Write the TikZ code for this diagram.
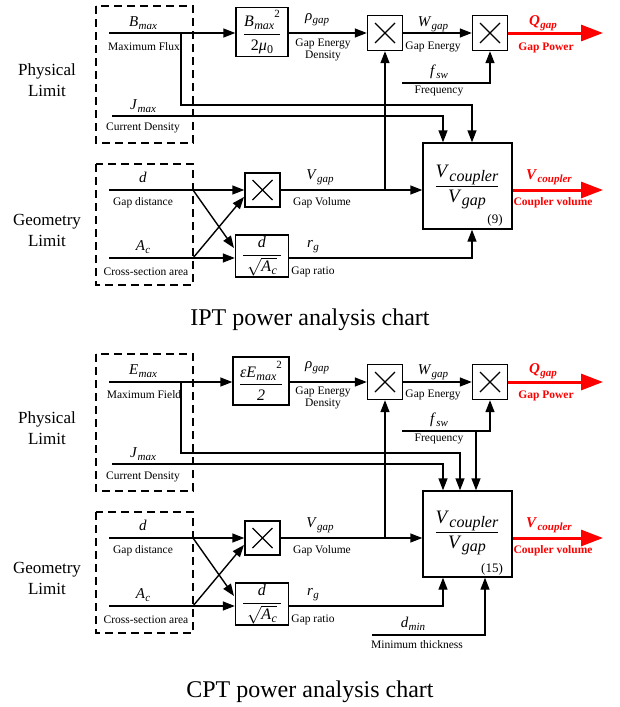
\documentclass[tikz,border=0pt]{standalone}
\usepackage{fontspec}
\setmainfont{Liberation Serif}
\usetikzlibrary{arrows.meta}
\newcommand{\vx}[3]{\textit{#2}\kern0.3pt\raisebox{-0.45ex}{\fontsize{#1}{#1}\selectfont\textit{#3}}}
\tikzset{
  ln/.style={line width=1.4pt},
  ar/.style={ln,-{Triangle[length=12pt,width=9pt]}},
  rar/.style={red, line width=3pt, -{Triangle[length=22pt,width=16pt]}},
  dbox/.style={line width=1.4pt, dash pattern=on 8pt off 5pt},
  blk/.style={draw, line width=1.4pt, inner sep=0pt, rectangle},
  mult/.style={blk, minimum width=35pt, minimum height=35pt,
    path picture={\draw[line width=1.2pt]
      ([shift={(-10pt,-10pt)}]path picture bounding box.center) -- ([shift={(10pt,10pt)}]path picture bounding box.center)
      ([shift={(-10pt,10pt)}]path picture bounding box.center) -- ([shift={(10pt,-10pt)}]path picture bounding box.center);}},
  sm/.style={font=\fontsize{11.5}{12.5}\selectfont, inner sep=0pt},
  var/.style={font=\fontsize{15}{16}\selectfont, inner sep=0pt},
  rvar/.style={font=\fontsize{15}{16}\selectfont\bfseries, text=red, inner sep=0pt},
  rsm/.style={font=\fontsize{11.5}{12.5}\selectfont\bfseries, text=red, inner sep=0pt},
  lim/.style={font=\fontsize{17}{21}\selectfont, align=center, inner sep=0pt},
  fr/.style={font=\fontsize{16}{17}\selectfont, inner sep=0pt},
  bigfr/.style={font=\fontsize{19}{20}\selectfont, inner sep=0pt},
  eqn/.style={font=\fontsize{13}{14}\selectfont, inner sep=0pt},
  captxt/.style={font=\fontsize{24}{26}\selectfont, inner sep=0pt},
}
\begin{document}
\begin{tikzpicture}[x=1pt,y=-1pt]
\useasboundingbox (0,0) rectangle (619,707);
% ================= IPT =================
\draw[dbox] (96,6) rectangle (193,143);
\draw[dbox] (96,164) rectangle (193,285);
\node[lim] (pl1) at (47,80) {Physical\\Limit};
\node[lim] (gl1) at (47,230) {Geometry\\Limit};
% blocks
\node[blk, fr, minimum width=52pt, minimum height=49pt] (E1) at (262,32)
  {$\displaystyle\frac{\hbox{\vx{12}{B}{max}\raisebox{1.2ex}{\fontsize{11}{11}\selectfont 2}}}{\hbox{2\textit{μ}\raisebox{-0.45ex}{\fontsize{12}{12}\selectfont 0}}}$};
\node[mult] (M1) at (385,33) {};
\node[mult] (M2) at (490,33) {};
\node[mult, minimum height=34pt] (M3) at (262.5,190) {};
\node[blk, fr, minimum width=53pt, minimum height=42pt] (S1) at (262,256)
  {$\displaystyle\frac{\hbox{\textit{d}}}{\hbox{\rule{0pt}{15pt}\kern4pt$\sqrt{\hbox{\vx{12}{A}{c}}}$\kern4pt}}$};
\node[blk, minimum width=89pt, minimum height=86pt] (C1) at (467.5,186) {};
\node[bigfr] (F1) at (467,187) {$\displaystyle\frac{\hbox{\vx{16}{V}{coupler}}}{\hbox{\vx{16}{V}{gap}}}$};
\node[eqn] (n1) at (495,220) {(9)};
% coordinates
\coordinate (Bs) at (109,33);
\coordinate (Bj) at (181,33);
\coordinate (Bk) at (181,105);
\coordinate (Js) at (112,116);
\coordinate (Fs) at (402,83);
\coordinate (Ds) at (109,190);
\coordinate (Dj) at (193,190);
\coordinate (As) at (109,258);
\coordinate (Aj) at (193,258);
\coordinate (Xa) at (234,248);
\coordinate (Xb) at (244,197);
\coordinate (Qe) at (603,33);
\coordinate (Ve) at (603,190);
% connectors
\draw[ar] (Bs) -- (Bs -| E1.west);
\draw[ar] (Bj) -- (Bk) -| ([xshift=4.5pt]C1.north);
\draw[ar] (Js) -| ([xshift=-24.5pt]C1.north);
\draw[ar] (E1.east |- M1) -- (M1);
\draw[ar] (M1) -- (M2);
\draw[rar] (M2) -- (Qe);
\draw[ar] (Fs) -| (M2.south);
\draw[ar] (Ds) -- (M3.west);
\draw[ar] (As) -- (As -| S1.west);
\draw[ar] (Dj) -- (Xa);
\draw[ar] (Aj) -- (Xb);
\draw[ar] (M3) -- (M3 -| C1.west);
\draw[ar] (M1.south |- M3.east) -- (M1.south);
\draw[ar] (S1.east |- As) -| ([xshift=4.5pt]C1.south);
\draw[rar] (C1.east |- M3) -- (Ve);
% labels
\node[var] (lB1) at (143,23) {\vx{11}{B}{max}};
\node[sm] (tB1) at (144,47) {Maximum Flux};
\node[var] (lJ1) at (143,106) {\vx{11}{J}{max}};
\node[sm] (tJ1) at (143,128) {Current Density};
\node[var] (ld1) at (143,177) {\textit{d}};
\node[sm] (td1) at (143,203) {Gap distance};
\node[var] (lA1) at (143,247) {\vx{11}{A}{c}};
\node[sm] (tA1) at (146,272) {Cross-section area};
\node[var] (lr1) at (317,20) {\vx{11}{ρ}{gap}};
\node[sm, align=center] (tr1) at (323,50) {Gap Energy\\Density};
\node[var] (lW1) at (433,24) {\vx{11}{W}{gap}};
\node[sm] (tW1) at (433,47) {Gap Energy};
\node[rvar] (lQ1) at (543,23) {\vx{11}{Q}{gap}};
\node[rsm] (tQ1) at (546,48) {Gap Power};
\node[var] (lf1) at (439,72) {\vx{11}{f}{sw}};
\node[sm] (tf1) at (439,91) {Frequency};
\node[var] (lV1) at (320,177) {\vx{11}{V}{gap}};
\node[sm] (tV1) at (322,203) {Gap Volume};
\node[rvar] (lC1) at (549,177) {\vx{11}{V}{coupler}};
\node[rsm] (tC1) at (553,203) {Coupler volume};
\node[var] (lg1) at (313,247) {\vx{11}{r}{g}};
\node[sm] (tg1) at (313,272) {Gap ratio};
\node[captxt] (cap1) at (310,320) {IPT power analysis chart};
% ================= CPT =================
\draw[dbox] (96,354) rectangle (193,491);
\draw[dbox] (96,512) rectangle (193,633);
\node[lim] (pl2) at (47,428) {Physical\\Limit};
\node[lim] (gl2) at (47,578) {Geometry\\Limit};
\node[blk, fr, minimum width=56pt, minimum height=48pt] (E2) at (261,381)
  {$\displaystyle\frac{\hbox{\textit{ε}\vx{12}{E}{max}\raisebox{1.2ex}{\fontsize{11}{11}\selectfont 2}}}{\hbox{\textit{2}}}$};
\node[mult] (M4) at (385,382) {};
\node[mult] (M5) at (490,382) {};
\node[mult, minimum height=34pt] (M6) at (262.5,538) {};
\node[blk, fr, minimum width=53pt, minimum height=42pt] (S2) at (262,604)
  {$\displaystyle\frac{\hbox{\textit{d}}}{\hbox{\rule{0pt}{15pt}\kern4pt$\sqrt{\hbox{\vx{12}{A}{c}}}$\kern4pt}}$};
\node[blk, minimum width=89pt, minimum height=86pt] (C2) at (467.5,534) {};
\node[bigfr] (F2) at (467,533) {$\displaystyle\frac{\hbox{\vx{16}{V}{coupler}}}{\hbox{\vx{16}{V}{gap}}}$};
\node[eqn] (n2) at (492,569) {(15)};
\coordinate (Es) at (109,382);
\coordinate (Ej) at (181,382);
\coordinate (Ek) at (181,453);
\coordinate (Js2) at (112,464);
\coordinate (Fs2) at (402,431);
\coordinate (Fk) at (476,431);
\coordinate (Ds2) at (109,538);
\coordinate (Dj2) at (193,538);
\coordinate (As2) at (109,606);
\coordinate (Aj2) at (193,606);
\coordinate (Xa2) at (234,596);
\coordinate (Xb2) at (244,545);
\coordinate (Dm) at (372,635);
\coordinate (Qe2) at (603,382);
\coordinate (Ve2) at (603,538);
\draw[ar] (Es) -- (Es -| E2.west);
\draw[ar] (Ej) -- (Ek) -| ([xshift=-7.5pt]C2.north);
\draw[ar] (Js2) -| ([xshift=-24.5pt]C2.north);
\draw[ar] (E2.east |- M4) -- (M4);
\draw[ar] (M4) -- (M5);
\draw[rar] (M5) -- (Qe2);
\draw[ar] (Fs2) -| (M5.south);
\draw[ar] (Fk) -- (Fk |- C2.north);
\draw[ar] (Ds2) -- (M6.west);
\draw[ar] (As2) -- (As2 -| S2.west);
\draw[ar] (Dj2) -- (Xa2);
\draw[ar] (Aj2) -- (Xb2);
\draw[ar] (M6) -- (M6 -| C2.west);
\draw[ar] (M4.south |- M6.east) -- (M4.south);
\draw[ar] (S2.east |- As2) -| ([xshift=-24.5pt]C2.south);
\draw[ar] (Dm) -| ([xshift=17.5pt]C2.south);
\draw[rar] (C2.east |- M6) -- (Ve2);
\node[var] (lB2) at (143,371) {\vx{11}{E}{max}};
\node[sm] (tB2) at (144,395) {Maximum Field};
\node[var] (lJ2) at (143,454) {\vx{11}{J}{max}};
\node[sm] (tJ2) at (143,477) {Current Density};
\node[var] (ld2) at (143,525) {\textit{d}};
\node[sm] (td2) at (143,551) {Gap distance};
\node[var] (lA2) at (143,595) {\vx{11}{A}{c}};
\node[sm] (tA2) at (146,620) {Cross-section area};
\node[var] (lr2) at (317,368) {\vx{11}{ρ}{gap}};
\node[sm, align=center] (tr2) at (323,398) {Gap Energy\\Density};
\node[var] (lW2) at (433,372) {\vx{11}{W}{gap}};
\node[sm] (tW2) at (433,395) {Gap Energy};
\node[rvar] (lQ2) at (543,371) {\vx{11}{Q}{gap}};
\node[rsm] (tQ2) at (546,396) {Gap Power};
\node[var] (lf2) at (439,420) {\vx{11}{f}{sw}};
\node[sm] (tf2) at (439,439) {Frequency};
\node[var] (lV2) at (320,525) {\vx{11}{V}{gap}};
\node[sm] (tV2) at (322,551) {Gap Volume};
\node[rvar] (lC2) at (549,525) {\vx{11}{V}{coupler}};
\node[rsm] (tC2) at (553,551) {Coupler volume};
\node[var] (lg2) at (313,595) {\vx{11}{r}{g}};
\node[sm] (tg2) at (313,620) {Gap ratio};
\node[var] (lm2) at (413,624) {\vx{11}{d}{min}};
\node[sm] (tm2) at (417,645) {Minimum thickness};
\node[captxt] (cap2) at (310,692) {CPT power analysis chart};
\end{tikzpicture}
\end{document}
